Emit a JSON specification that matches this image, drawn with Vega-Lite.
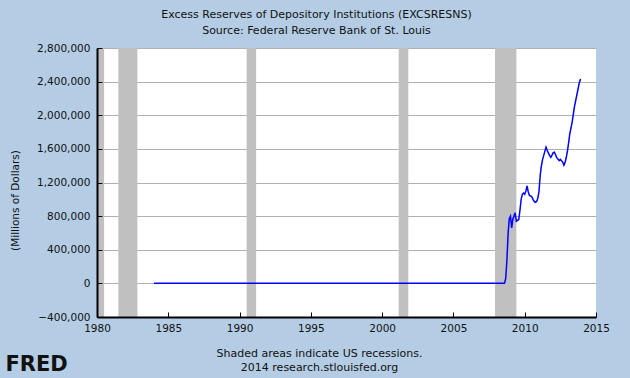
{
  "$schema": "https://vega.github.io/schema/vega-lite/v6.json",
  "width": 499,
  "height": 269,
  "autosize": {"type": "none"},
  "padding": {"left": 97, "top": 48, "right": 34, "bottom": 61},
  "background": "#b4cde4",
  "config": {"view": {"fill": "white", "stroke": null}, "font": "DejaVu Sans"},
  "title": {
    "text": ["Excess Reserves of Depository Institutions (EXCSRESNS)", "Source: Federal Reserve Bank of St. Louis"],
    "fontSize": 11, "fontWeight": "normal", "color": "#111", "lineHeight": 16,
    "anchor": "middle", "frame": "group", "dx": -30, "offset": 7
  },
  "datasets": {
    "recessions": [
      {"start": "1980-01-01", "end": "1980-07-01"},
      {"start": "1981-07-01", "end": "1982-11-01"},
      {"start": "1990-07-01", "end": "1991-03-01"},
      {"start": "2001-03-01", "end": "2001-11-01"},
      {"start": "2007-12-01", "end": "2009-06-01"}
    ],
    "series": [
      {"date": "1984-01-01", "value": 800},
      {"date": "1985-01-01", "value": 800},
      {"date": "1986-01-01", "value": 1000},
      {"date": "1987-01-01", "value": 1100},
      {"date": "1988-01-01", "value": 1000},
      {"date": "1989-01-01", "value": 900},
      {"date": "1990-01-01", "value": 1000},
      {"date": "1991-01-01", "value": 1100},
      {"date": "1992-01-01", "value": 1200},
      {"date": "1993-01-01", "value": 1100},
      {"date": "1994-01-01", "value": 1000},
      {"date": "1995-01-01", "value": 1100},
      {"date": "1996-01-01", "value": 1200},
      {"date": "1997-01-01", "value": 1300},
      {"date": "1998-01-01", "value": 1400},
      {"date": "1999-01-01", "value": 1300},
      {"date": "2000-01-01", "value": 1200},
      {"date": "2001-01-01", "value": 1400},
      {"date": "2002-01-01", "value": 1500},
      {"date": "2003-01-01", "value": 1700},
      {"date": "2004-01-01", "value": 1600},
      {"date": "2005-01-01", "value": 1700},
      {"date": "2006-01-01", "value": 1800},
      {"date": "2007-01-01", "value": 1700},
      {"date": "2008-01-01", "value": 1600},
      {"date": "2008-02-01", "value": 1600},
      {"date": "2008-03-01", "value": 1700},
      {"date": "2008-04-01", "value": 1800},
      {"date": "2008-05-01", "value": 1900},
      {"date": "2008-06-01", "value": 2000},
      {"date": "2008-07-01", "value": 1900},
      {"date": "2008-08-01", "value": 1900},
      {"date": "2008-09-01", "value": 60000},
      {"date": "2008-10-01", "value": 270000},
      {"date": "2008-11-01", "value": 590000},
      {"date": "2008-12-01", "value": 770000},
      {"date": "2009-01-01", "value": 800000},
      {"date": "2009-02-01", "value": 660000},
      {"date": "2009-03-01", "value": 760000},
      {"date": "2009-04-01", "value": 800000},
      {"date": "2009-05-01", "value": 840000},
      {"date": "2009-06-01", "value": 740000},
      {"date": "2009-07-01", "value": 750000},
      {"date": "2009-08-01", "value": 760000},
      {"date": "2009-09-01", "value": 870000},
      {"date": "2009-10-01", "value": 1000000},
      {"date": "2009-11-01", "value": 1060000},
      {"date": "2009-12-01", "value": 1075000},
      {"date": "2010-01-01", "value": 1060000},
      {"date": "2010-02-01", "value": 1100000},
      {"date": "2010-03-01", "value": 1160000},
      {"date": "2010-04-01", "value": 1090000},
      {"date": "2010-05-01", "value": 1045000},
      {"date": "2010-06-01", "value": 1040000},
      {"date": "2010-07-01", "value": 1030000},
      {"date": "2010-08-01", "value": 1000000},
      {"date": "2010-09-01", "value": 975000},
      {"date": "2010-10-01", "value": 965000},
      {"date": "2010-11-01", "value": 975000},
      {"date": "2010-12-01", "value": 1010000},
      {"date": "2011-01-01", "value": 1090000},
      {"date": "2011-02-01", "value": 1280000},
      {"date": "2011-03-01", "value": 1390000},
      {"date": "2011-04-01", "value": 1470000},
      {"date": "2011-05-01", "value": 1520000},
      {"date": "2011-06-01", "value": 1570000},
      {"date": "2011-07-01", "value": 1620000},
      {"date": "2011-08-01", "value": 1580000},
      {"date": "2011-09-01", "value": 1550000},
      {"date": "2011-10-01", "value": 1520000},
      {"date": "2011-11-01", "value": 1500000},
      {"date": "2011-12-01", "value": 1525000},
      {"date": "2012-01-01", "value": 1555000},
      {"date": "2012-02-01", "value": 1560000},
      {"date": "2012-03-01", "value": 1530000},
      {"date": "2012-04-01", "value": 1495000},
      {"date": "2012-05-01", "value": 1480000},
      {"date": "2012-06-01", "value": 1460000},
      {"date": "2012-07-01", "value": 1475000},
      {"date": "2012-08-01", "value": 1460000},
      {"date": "2012-09-01", "value": 1440000},
      {"date": "2012-10-01", "value": 1405000},
      {"date": "2012-11-01", "value": 1440000},
      {"date": "2012-12-01", "value": 1500000},
      {"date": "2013-01-01", "value": 1580000},
      {"date": "2013-02-01", "value": 1680000},
      {"date": "2013-03-01", "value": 1780000},
      {"date": "2013-04-01", "value": 1850000},
      {"date": "2013-05-01", "value": 1920000},
      {"date": "2013-06-01", "value": 2020000},
      {"date": "2013-07-01", "value": 2110000},
      {"date": "2013-08-01", "value": 2180000},
      {"date": "2013-09-01", "value": 2250000},
      {"date": "2013-10-01", "value": 2320000},
      {"date": "2013-11-01", "value": 2390000},
      {"date": "2013-12-01", "value": 2430000}
    ]
  },
  "layer": [
    {
      "data": {"name": "recessions"},
      "mark": {"type": "rect", "color": "#c0c0c0"},
      "encoding": {
        "x": {
          "field": "start", "type": "temporal",
          "scale": {"domain": ["1980-01-01", "2015-01-01"]},
          "axis": {
            "orient": "bottom", "domain": false, "labels": false, "ticks": false, "grid": false,
            "title": "FRED", "titleFont": "DejaVu Sans", "titleFontWeight": "bold", "titleFontSize": 21,
            "titleColor": "#111", "titleX": -92, "titleY": 53, "titleAlign": "left", "titleBaseline": "alphabetic"
          }
        },
        "x2": {"field": "end"}
      }
    },
    {
      "data": {"name": "series"},
      "mark": {"type": "line", "color": "#0000ff", "strokeWidth": 1.5},
      "encoding": {
        "x": {
          "field": "date", "type": "temporal",
          "axis": {
            "orient": "bottom", "format": "%Y",
            "values": [{"year": 1980}, {"year": 1985}, {"year": 1990}, {"year": 1995}, {"year": 2000}, {"year": 2005}, {"year": 2010}, {"year": 2015}],
            "grid": false, "domainColor": "#000", "domainWidth": 2, "tickColor": "#000", "tickSize": -5,
            "labelFontSize": 10.5, "labelColor": "#111", "labelPadding": 11, "labelFlush": false, "labelOverlap": false,
            "title": ["Shaded areas indicate US recessions.", "2014 research.stlouisfed.org"],
            "titleFontSize": 11, "titleFontWeight": "normal", "titleColor": "#111",
            "titleX": 222, "titleY": 30, "titleAlign": "center", "titleBaseline": "top", "titleLineHeight": 14.5,
            "zindex": 1
          }
        },
        "y": {
          "field": "value", "type": "quantitative",
          "scale": {"domain": [-400000, 2800000], "nice": false},
          "axis": {
            "orient": "left", "grid": true, "gridColor": "#b0b0b0", "domain": false, "ticks": false, "labels": false,
            "title": null, "zindex": 0,
            "values": [-400000, 0, 400000, 800000, 1200000, 1600000, 2000000, 2400000, 2800000]
          }
        }
      }
    },
    {
      "data": {"name": "series"},
      "mark": {"type": "point", "opacity": 0},
      "encoding": {
        "x": {"field": "date", "type": "temporal", "axis": null},
        "y": {
          "field": "value", "type": "quantitative",
          "axis": {
            "orient": "left", "grid": false, "format": ",d",
            "values": [-400000, 0, 400000, 800000, 1200000, 1600000, 2000000, 2400000, 2800000],
            "domainColor": "#000", "domainWidth": 2, "tickColor": "#000", "tickSize": -5,
            "labelFontSize": 10.5, "labelColor": "#111", "labelPadding": 12, "labelFlush": false, "labelOverlap": false,
            "title": "(Millions of Dollars)", "titleFontSize": 10.5, "titleFontWeight": "normal", "titleColor": "#111",
            "titleX": -82, "titleY": 152, "titleAngle": 270, "titleAlign": "center", "titleBaseline": "middle",
            "zindex": 1
          }
        }
      }
    }
  ],
  "resolve": {"axis": {"x": "independent", "y": "independent"}}
}
